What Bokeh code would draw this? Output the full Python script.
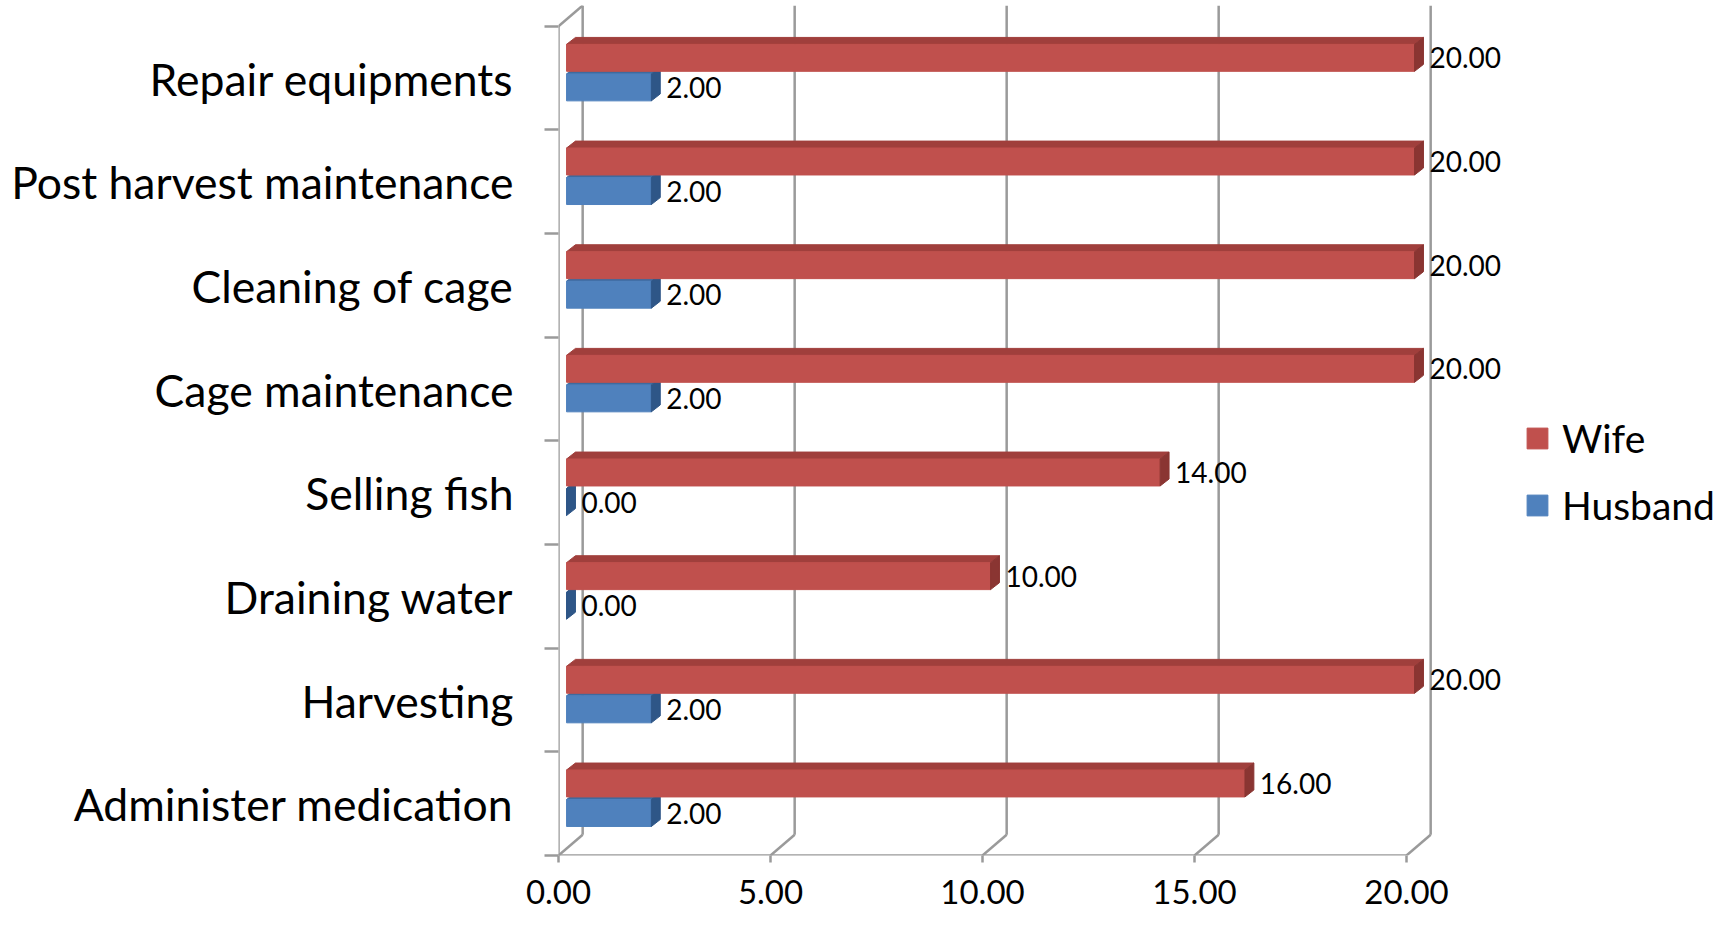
from bokeh.plotting import figure
from bokeh.models import (ColumnDataSource, FixedTicker, PrintfTickFormatter,
                          Legend, LegendItem, Range1d, LinearAxis)
from bokeh.core.properties import value
from bokeh.embed import file_html
from bokeh.resources import INLINE

# ---------------- data ----------------
categories = ["Administer medication", "Harvesting", "Draining water", "Selling fish",
              "Cage maintenance", "Cleaning of cage", "Post harvest maintenance",
              "Repair equipments"]
wife = [16, 20, 10, 14, 20, 20, 20, 20]
husband = [2, 2, 0, 0, 2, 2, 2, 2]
x_ticks = [0, 5, 10, 15, 20]

# ---------------- style / geometry ----------------
FONT = "Lato"
W_FRONT, W_TOP, W_SIDE = "#C0504D", "#A03F3C", "#8A3532"
H_FRONT, H_TOP, H_SIDE = "#4F81BD", "#3F6A9E", "#2E5687"
GRID = "#9A9A9A"
W_LO, W_HI = 0.065, 0.325
H_LO, H_HI = -0.22, 0.04
BDX, BDY = 0.21, 0.067      # bar depth
FDX = 0.19                  # bars sit this far behind the front floor
WDX, WDY = 0.38, 0.20       # back wall offset relative to bars

n = len(categories)
PXU = 42.4
X0 = -FDX
FRAME_LEFT = 558
FIG_W, FIG_H = 1719, 915
FRAME_BOTTOM = 60
x_end = X0 + (FIG_W - FRAME_LEFT) / PXU
y_lo, y_hi = -0.5, n - 0.5 + WDY

p = figure(width=FIG_W, height=FIG_H, output_backend="svg", toolbar_location=None,
           x_range=Range1d(X0, x_end), y_range=Range1d(y_lo, y_hi),
           x_axis_location=None,
           min_border_left=FRAME_LEFT, min_border_right=0, min_border_top=5,
           min_border_bottom=FRAME_BOTTOM)
p.extra_x_ranges = {"front": Range1d(X0 + FDX, x_end + FDX)}
p.outline_line_color = None
p.grid.visible = False
p.background_fill_color = "white"
p.border_fill_color = "white"

# ---------------- wall ----------------
gx0, gy0, gx1, gy1 = [], [], [], []
for k in x_ticks:
    gx0 += [k + WDX, k - FDX]
    gy0 += [-0.5 + WDY, -0.5]
    gx1 += [k + WDX, k + WDX]
    gy1 += [n - 0.5 + WDY, -0.5 + WDY]
# front floor, front-left vertical and its top slant
gx0 += [X0, X0, X0]
gy0 += [-0.5, -0.5, n - 0.5]
gx1 += [x_ticks[-1] - FDX, X0, x_ticks[0] + WDX]
gy1 += [-0.5, n - 0.5, n - 0.5 + WDY]
p.segment(gx0, gy0, gx1, gy1, line_color=GRID, line_width=2.5)

# ---------------- bars ----------------
def bar_parts(vals, lo, hi):
    front = dict(left=[0] * n, right=vals, bottom=[i + lo for i in range(n)],
                 top=[i + hi for i in range(n)])
    top_xs, top_ys, side_xs, side_ys = [], [], [], []
    for i, v in enumerate(vals):
        top_xs.append([0, v, v + BDX, BDX])
        top_ys.append([i + hi, i + hi, i + hi + BDY, i + hi + BDY])
        side_xs.append([v, v, v + BDX, v + BDX])
        side_ys.append([i + lo, i + hi, i + hi + BDY, i + lo + BDY])
    return front, (top_xs, top_ys), (side_xs, side_ys)

hf, ht, hs = bar_parts(husband, H_LO, H_HI)
wf, wt, ws = bar_parts(wife, W_LO, W_HI)

p.patches(ht[0], ht[1], fill_color=H_TOP, line_color=H_TOP)
r_h = p.quad(source=ColumnDataSource(hf), left="left", right="right", bottom="bottom",
             top="top", fill_color=H_FRONT, line_color=H_FRONT)
p.patches(hs[0], hs[1], fill_color=H_SIDE, line_color=H_SIDE)
p.patches(wt[0], wt[1], fill_color=W_TOP, line_color=W_TOP)
r_w = p.quad(source=ColumnDataSource(wf), left="left", right="right", bottom="bottom",
             top="top", fill_color=W_FRONT, line_color=W_FRONT)
p.patches(ws[0], ws[1], fill_color=W_SIDE, line_color=W_SIDE)

# ---------------- data labels ----------------
lab = ColumnDataSource(dict(
    x=[v + BDX for v in wife] + [v + BDX for v in husband],
    y=[i + (W_LO + W_HI) / 2 for i in range(n)] + [i + (H_LO + H_HI) / 2 for i in range(n)],
    t=["%.2f" % v for v in wife] + ["%.2f" % v for v in husband]))
p.text(x="x", y="y", text="t", source=lab, x_offset=6, text_align="left",
       text_baseline="middle", text_font=value(FONT), text_font_size="28px",
       text_color="black")

# ---------------- axes ----------------
xa = LinearAxis(x_range_name="front")
xa.ticker = FixedTicker(ticks=x_ticks, minor_ticks=[])
xa.formatter = PrintfTickFormatter(format="%.2f")
xa.axis_line_alpha = 0
xa.major_tick_out = 7
xa.major_tick_in = 0
xa.major_tick_line_color = GRID
xa.major_tick_line_width = 2.5
xa.major_label_standoff = 17
xa.major_label_text_font = FONT
xa.major_label_text_font_size = "33px"
xa.major_label_text_color = "black"
p.add_layout(xa, "below")

ya = p.yaxis[0]
ya.ticker = FixedTicker(ticks=list(range(n)), minor_ticks=[i - 0.5 for i in range(n + 1)])
ya.major_label_overrides = {i: c for i, c in enumerate(categories)}
ya.axis_line_alpha = 0
ya.major_tick_out = 0
ya.major_tick_in = 0
ya.minor_tick_out = 14
ya.minor_tick_in = 0
ya.minor_tick_line_color = GRID
ya.minor_tick_line_width = 2.5
ya.major_label_standoff = 31
ya.major_label_text_font = FONT
ya.major_label_text_font_size = "44.5px"
ya.major_label_text_color = "black"

# ---------------- legend ----------------
legend = Legend(items=[LegendItem(label="Wife", renderers=[r_w]),
                       LegendItem(label="Husband", renderers=[r_h])],
                location=(966, 327), orientation="vertical",
                glyph_width=26, glyph_height=26, label_height=26,
                label_standoff=12, spacing=21, padding=0, margin=0,
                border_line_color=None, background_fill_alpha=0,
                label_text_font=FONT, label_text_font_size="39px",
                label_text_color="black", label_text_baseline="middle")
p.add_layout(legend, "center")

open("out.html", "w").write(file_html(p, INLINE))
